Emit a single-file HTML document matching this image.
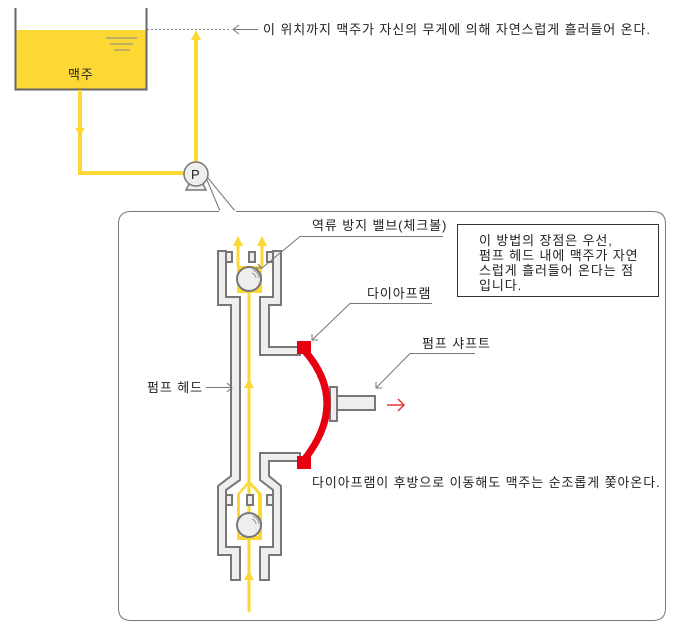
<!DOCTYPE html>
<html><head><meta charset="utf-8"><style>
html,body{margin:0;padding:0;background:#fff}
svg text{font-family:"Liberation Sans","Noto Sans CJK KR",sans-serif;font-size:13px;letter-spacing:0.9px;fill:#222}
</style></head><body>
<svg width="680" height="628" viewBox="0 0 680 628" xmlns="http://www.w3.org/2000/svg">
<!-- tank -->
<rect x="16" y="30" width="130" height="60" fill="#fcd835"/>
<path d="M15.5,8 V89.5 H146.5 V8" fill="none" stroke="#666" stroke-width="2"/>
<g stroke="#888" stroke-width="1"><line x1="106" y1="38" x2="137" y2="38"/><line x1="110" y1="44" x2="133" y2="44"/><line x1="114" y1="50" x2="130" y2="50"/></g>
<text x="68" y="79" font-size="13">맥주</text>
<line x1="147" y1="29.5" x2="230" y2="29.5" stroke="#888" stroke-dasharray="2,2"/>
<line x1="234" y1="29.5" x2="258" y2="29.5" stroke="#777"/><path d="M239,25 L233,29.5 L239,34" fill="none" stroke="#777"/>
<text x="263" y="34">이 위치까지 맥주가 자신의 무게에 의해 자연스럽게 흘러들어 온다.</text>
<!-- pipes -->
<path d="M80,90 V173 H186" fill="none" stroke="#fcd835" stroke-width="4"/>
<path d="M75,128 L85,128 L80,136z" fill="#fcd835"/>
<line x1="196" y1="162" x2="196" y2="38" stroke="#fcd835" stroke-width="4"/>
<path d="M191,40 L196,30 L201,40z" fill="#fcd835"/>
<!-- pump -->
<path d="M189,184 L186,190 H206 L203,184z" fill="#eee" stroke="#777" stroke-width="1.5"/>
<circle cx="196" cy="174" r="12" fill="#eee" stroke="#777" stroke-width="1.5"/>
<text x="191" y="179" font-size="12" fill="#555" style="letter-spacing:0">P</text>
<line x1="207" y1="180" x2="220" y2="211" stroke="#777"/>
<line x1="208" y1="178" x2="235" y2="211" stroke="#777"/>
<!-- frame -->
<path d="M220,211.5 H653 Q665.5,211.5 665.5,224 V608 Q665.5,620.5 653,620.5 H131 Q118.5,620.5 118.5,608 V224 Q118.5,211.5 131,211.5 H220" fill="none" stroke="#777"/>
<path d="M219,211.5 H236" stroke="#fff" stroke-width="2"/>
<!-- yellow flow -->
<rect x="237" y="266" width="25" height="27" fill="#fcd835"/>
<path d="M249,480 L262,494 V540 H237 V494z" fill="#fcd835"/>
<path d="M249,484 L258,494 V536 H240 V494z" fill="#fff"/>
<line x1="249" y1="293" x2="249" y2="612" stroke="#fcd835" stroke-width="3"/>
<line x1="238" y1="266" x2="238" y2="245" stroke="#fcd835" stroke-width="3"/>
<line x1="262" y1="266" x2="262" y2="245" stroke="#fcd835" stroke-width="3"/>
<path d="M233,246 L238,236 L243,246z M257,246 L262,236 L267,246z" fill="#fcd835"/>
<path d="M244,388 L249,379 L254,388z M244,580 L249,571 L254,580z" fill="#fcd835"/>
<!-- walls -->
<g fill="#eee" stroke="#777" stroke-width="2" stroke-linejoin="miter">
<path d="M218,251 H226 V297 H240 V480 L226,490 V547 H240 V580 H231 V555 H218 V486 L231,476 V305 H218z"/>
<path d="M281,251 H273 V297 H260 V355 H300 V347 H269 V305 H281z"/>
<path d="M300,453 H260 V480 L273,490 V547 H260 V580 H269 V555 H281 V486 L269,476 V461 H300z"/>
<rect x="226" y="252" width="6" height="10"/><rect x="249" y="252" width="6" height="10"/><rect x="267" y="252" width="6" height="10"/>
<rect x="226" y="495" width="6" height="10"/><rect x="247" y="495" width="6" height="10"/><rect x="267" y="495" width="6" height="10"/>
<rect x="330" y="387" width="7" height="34"/><rect x="337" y="396" width="38" height="14"/>
</g>
<!-- balls -->
<g fill="#eee" stroke="#777" stroke-width="2"><circle cx="249" cy="279" r="12"/><circle cx="249" cy="525" r="12"/></g>
<g fill="none" stroke="#999" stroke-width="1"><path d="M252,273 a6,6 0 0 1 4,5"/><path d="M253,270 a9,9 0 0 1 6,8"/><path d="M252,519 a6,6 0 0 1 4,5"/><path d="M253,516 a9,9 0 0 1 6,8"/></g>
<!-- diaphragm -->
<path d="M304,350 Q350,402 304,460" fill="none" stroke="#e60012" stroke-width="7"/>
<rect x="297" y="341" width="14" height="13" fill="#e60012"/>
<rect x="297" y="456" width="14" height="13" fill="#e60012"/>
<path d="M387,405 H404 M398,399 L404,405 L398,411" fill="none" stroke="#e53935" stroke-width="1.5"/>
<!-- labels -->
<g stroke="#777" fill="none">
<path d="M443,236.5 H300 L262,268"/><path d="M258,264 L262,268 L256,268"/>
<path d="M432,303.5 H350 L312,340"/><path d="M312,334 L312,340 L318,340"/>
<path d="M475,353.5 H410 L376,388"/><path d="M376,382 L376,388 L382,388"/>
<path d="M206,387.5 H232 M227,383 L232,387.5 L227,392"/>
</g>
<text x="312" y="230">역류 방지 밸브(체크볼)</text>
<text x="367" y="298">다이아프램</text>
<text x="422" y="348">펌프 샤프트</text>
<text x="147" y="392">펌프 헤드</text>
<text x="312" y="487">다이아프램이 후방으로 이동해도 맥주는 순조롭게 쫓아온다.</text>
<rect x="457.5" y="224.5" width="201" height="72" fill="#fff" stroke="#333"/>
<text x="479" y="245">이 방법의 장점은 우선,</text>
<text x="479" y="260">펌프 헤드 내에 맥주가 자연</text>
<text x="479" y="275">스럽게 흘러들어 온다는 점</text>
<text x="479" y="290">입니다.</text>
</svg>
</body></html>
